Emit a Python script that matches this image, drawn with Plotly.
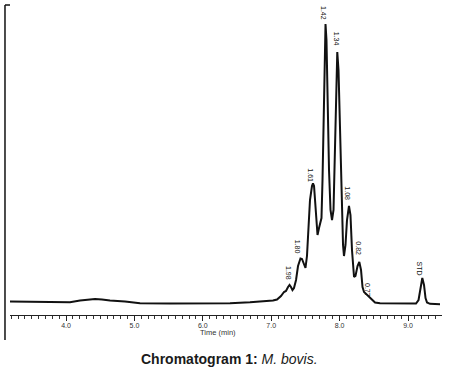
import plotly.graph_objects as go

# Retention time (min) and detector response (arbitrary units)
time_min = [3.181, 3.474, 3.766, 4.058, 4.205, 4.322, 4.424, 4.526, 4.643, 4.863, 5.082, 5.520,
            5.959, 6.398, 6.690, 6.836, 6.953, 7.026, 7.085, 7.143, 7.187, 7.216, 7.246, 7.268,
            7.289, 7.311, 7.333, 7.363, 7.392, 7.428, 7.450, 7.480, 7.501, 7.523, 7.545, 7.567,
            7.596, 7.611, 7.626, 7.648, 7.677, 7.699, 7.721, 7.735, 7.750, 7.765, 7.779, 7.794,
            7.808, 7.823, 7.845, 7.867, 7.889, 7.911, 7.933, 7.947, 7.966, 7.984, 8.006, 8.028,
            8.050, 8.064, 8.086, 8.108, 8.137, 8.159, 8.181, 8.211, 8.232, 8.262, 8.288, 8.313,
            8.335, 8.357, 8.386, 8.415, 8.444, 8.474, 8.518, 8.591, 8.810, 9.029, 9.117, 9.154,
            9.183, 9.209, 9.234, 9.256, 9.278, 9.322, 9.468]
response = [2.5, 2.2, 1.7, 1.7, 3.5, 4.5, 5, 4.5, 3.5, 2.5, 0.7, 0.5,
            0.5, 0.8, 1.7, 2.5, 3, 3.5, 4.5, 8, 12, 13, 17, 19,
            17, 14, 16, 24, 38, 45.5, 45, 40, 36, 48, 74, 104,
            118, 120.5, 118, 94, 69, 76, 83, 86, 124, 194, 254, 280,
            264, 204, 134, 94, 84, 94, 154, 214, 252, 234, 174, 104,
            59, 48, 59, 84, 98, 89, 54, 27, 28, 38, 42, 34,
            17, 12, 10, 8, 6.5, 4, 1.5, 0.8, 0.5, 0.2, 0.5, 4,
            17, 26, 19, 6, 1.5, 0.2, -0.2]

# Peak labels
peak_labels = ["1.98", "1.80", "1.61", "1.42", "1.34", "1.08", "0.82", "0.77", "STD"]
label_time = [7.260, 7.396, 7.577, 7.772, 7.966, 8.118, 8.279, 8.415, 9.168]
label_resp = [31, 57, 129, 291, 265, 111, 56, 14, 36]

tick_vals = [4.0, 5.0, 6.0, 7.0, 8.0, 9.0]
tick_text = ["4.0", "5.0", "6.0", "7.0", "8.0", "9.0"]

fig = go.Figure()
fig.add_trace(go.Scatter(x=time_min, y=response, mode="lines",
                         line=dict(color="#111111", width=2), hoverinfo="skip"))

for lab, t, r in zip(peak_labels, label_time, label_resp):
    fig.add_annotation(x=t, y=r, text=lab, showarrow=False, textangle=90,
                       xanchor="center", yanchor="middle",
                       font=dict(family="Liberation Sans, Arial", size=7, color="#111111"))

# axis title and caption
fig.add_annotation(x=0.4815, y=-0.058, xref="paper", yref="paper", text="Time (min)",
                   showarrow=False, xanchor="center", yanchor="middle",
                   font=dict(family="Liberation Sans, Arial", size=7.5, color="#333333"))
fig.add_annotation(x=0.509, y=-0.142, xref="paper", yref="paper",
                   text="<b>Chromatogram 1:</b> <i>M. bovis.</i>",
                   showarrow=False, xanchor="center", yanchor="middle",
                   font=dict(family="Liberation Sans, Arial", size=14, color="#1a1a1a"))

# left frame line with top tick
fig.add_shape(type="line", xref="paper", yref="paper", x0=-0.0116, x1=-0.0116, y0=1.0, y1=-0.0806,
              line=dict(color="#111111", width=1.5))
fig.add_shape(type="line", xref="paper", yref="paper", x0=-0.0116, x1=0.0, y0=1.0, y1=1.0,
              line=dict(color="#111111", width=1.5))

fig.update_layout(
    width=457, height=367,
    margin=dict(l=10, r=15, t=5, b=52),
    paper_bgcolor="white", plot_bgcolor="white",
    showlegend=False,
    xaxis=dict(range=[3.181, 9.497], showgrid=False, zeroline=False,
               showline=True, linecolor="#222222", linewidth=1,
               ticks="outside", ticklen=5, tickwidth=1, tickcolor="#222222",
               tickvals=tick_vals, ticktext=tick_text, ticklabelstandoff=-1,
               tickfont=dict(family="Liberation Sans, Arial", size=7, color="#333333"),
               minor=dict(dtick=0.1, tick0=4.0, ticks="outside", ticklen=2.5,
                          tickwidth=1, tickcolor="#333333", showgrid=False)),
    yaxis=dict(range=[-11, 299], visible=False, showgrid=False, zeroline=False),
)

fig.write_html("out.html", config={"displayModeBar": False},
               post_script="document.body.style.margin='0px';")
